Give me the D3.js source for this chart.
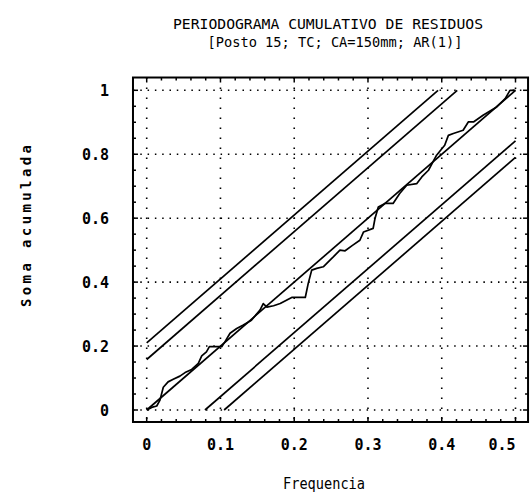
<!DOCTYPE html>
<html>
<head>
<meta charset="utf-8">
<script src="https://cdn.jsdelivr.net/npm/d3@7"></script>
<style>
  html, body { margin: 0; padding: 0; background: #fff; }
  svg { display: block; }
</style>
</head>
<body>
<svg id="chart" width="530" height="500"></svg>
<script>
// ---- data ----
const titleLines = ["PERIODOGRAMA CUMULATIVO DE RESIDUOS", "[Posto 15; TC; CA=150mm; AR(1)]"];
const xLabel = "Frequencia";
const yLabel = "Soma acumulada";
const xTicks = [0, 0.1, 0.2, 0.3, 0.4, 0.5];
const xTickLabels = ["0", "0.1", "0.2", "0.3", "0.4", "0.5"];
const yTicks = [0, 0.2, 0.4, 0.6, 0.8, 1];
const yTickLabels = ["0", "0.2", "0.4", "0.6", "0.8", "1"];
const bandOffsets = [0.158, 0.21];
const freq = [0, 0.0068, 0.0136, 0.018, 0.0225, 0.029, 0.036, 0.045, 0.052, 0.061, 0.07, 0.0746, 0.081, 0.085, 0.1017, 0.106, 0.113, 0.122, 0.131, 0.142, 0.1536, 0.158, 0.163, 0.172, 0.181, 0.1966, 0.215, 0.219, 0.2237, 0.2305, 0.2394, 0.2485, 0.253, 0.262, 0.269, 0.279, 0.289, 0.294, 0.307, 0.3095, 0.314, 0.323, 0.334, 0.343, 0.3525, 0.366, 0.373, 0.382, 0.393, 0.404, 0.409, 0.4157, 0.429, 0.436, 0.443, 0.456, 0.4745, 0.486, 0.4925, 0.5];
const cumPer = [0, 0.008, 0.0125, 0.031, 0.071, 0.088, 0.096, 0.106, 0.117, 0.127, 0.146, 0.169, 0.182, 0.198, 0.198, 0.213, 0.24, 0.255, 0.266, 0.281, 0.3125, 0.333, 0.322, 0.326, 0.333, 0.352, 0.352, 0.396, 0.4375, 0.443, 0.448, 0.469, 0.479, 0.5, 0.498, 0.515, 0.531, 0.557, 0.568, 0.599, 0.635, 0.646, 0.646, 0.677, 0.703, 0.708, 0.729, 0.75, 0.797, 0.828, 0.859, 0.865, 0.875, 0.901, 0.901, 0.922, 0.948, 0.974, 1.0, 1.0];

// ---- layout ----
const svg = d3.select("#chart");
const x = d3.scaleLinear().domain([0, 0.5]).range([146.7, 515.5]);
const y = d3.scaleLinear().domain([0, 1]).range([410, 90.3]);
const frameX = [-0.0186, 0.517];
const frameY = [-0.0375, 1.04];
const fx0 = x(frameX[0]), fx1 = x(frameX[1]), fy0 = y(frameY[1]), fy1 = y(frameY[0]);
const mono = "'DejaVu Sans Mono', monospace";

// grid (dotted)
svg.append("g").selectAll("line").data(yTicks).join("line")
  .attr("x1", fx0).attr("x2", fx1)
  .attr("y1", d => y(d)).attr("y2", d => y(d))
  .attr("stroke", "#000").attr("stroke-width", 1.6)
  .attr("stroke-dasharray", "1.5,5.8");
svg.append("g").selectAll("line").data(xTicks).join("line")
  .attr("x1", d => x(d)).attr("x2", d => x(d))
  .attr("y1", fy0).attr("y2", fy1)
  .attr("stroke", "#000").attr("stroke-width", 1.6)
  .attr("stroke-dasharray", "1.5,8.5");

// frame
svg.append("rect").attr("x", fx0).attr("y", fy0)
  .attr("width", fx1 - fx0).attr("height", fy1 - fy0)
  .attr("fill", "none").attr("stroke", "#000").attr("stroke-width", 2);

// frame ticks
const xMinor = d3.range(0, 0.5001, 0.02);
const yMinor = d3.range(0, 1.0001, 0.05);
const isMajX = d => Math.abs(d * 10 - Math.round(d * 10)) < 1e-6;
const isMajY = d => Math.abs(d * 5 - Math.round(d * 5)) < 1e-6;
const tk = svg.append("g").attr("stroke", "#000").attr("stroke-width", 1.5);
xMinor.forEach(d => {
  const L = isMajX(d) ? 5 : 3;
  tk.append("line").attr("x1", x(d)).attr("x2", x(d)).attr("y1", fy1).attr("y2", fy1 - L);
  tk.append("line").attr("x1", x(d)).attr("x2", x(d)).attr("y1", fy0).attr("y2", fy0 + L);
});
yMinor.forEach(d => {
  const L = isMajY(d) ? 5 : 3;
  tk.append("line").attr("y1", y(d)).attr("y2", y(d)).attr("x1", fx0).attr("x2", fx0 + L);
  tk.append("line").attr("y1", y(d)).attr("y2", y(d)).attr("x1", fx1).attr("x2", fx1 - L);
});

// band lines
const line = d3.line().x(d => x(d[0])).y(d => y(d[1]));
const bands = [];
bandOffsets.forEach(c => {
  bands.push([[0, c], [(1 - c) / 2, 1]]);
  bands.push([[c / 2, 0], [0.5, 1 - c]]);
});
bands.push([[0, 0], [0.5, 1]]);
svg.append("g").selectAll("path").data(bands).join("path")
  .attr("d", line).attr("fill", "none")
  .attr("stroke", "#000").attr("stroke-width", 1.7);

// cumulative periodogram
svg.append("path").datum(freq.map((f, i) => [f, cumPer[i]]))
  .attr("d", line).attr("fill", "none")
  .attr("stroke", "#000").attr("stroke-width", 1.7).attr("stroke-linejoin", "round");

// tick labels
svg.append("g").selectAll("text").data(xTicks).join("text")
  .attr("x", (d, i) => Math.min(x(d), 502))
  .attr("y", 450)
  .attr("text-anchor", "middle")
  .attr("font-family", mono).attr("font-size", 15).attr("font-weight", "bold")
  .text((d, i) => xTickLabels[i]);
svg.append("g").selectAll("text").data(yTicks).join("text")
  .attr("x", 109)
  .attr("y", d => y(d) + 6)
  .attr("text-anchor", "end")
  .attr("font-family", mono).attr("font-size", 15).attr("font-weight", "bold")
  .text((d, i) => yTickLabels[i]);

// titles
svg.append("text").attr("x", 328).attr("y", 29).attr("text-anchor", "middle")
  .attr("font-family", mono).attr("font-size", 14.5)
  .attr("textLength", 310).attr("lengthAdjust", "spacingAndGlyphs")
  .text(titleLines[0]);
svg.append("text").attr("x", 335).attr("y", 47).attr("text-anchor", "middle")
  .attr("font-family", mono).attr("font-size", 14.5)
  .attr("textLength", 255).attr("lengthAdjust", "spacingAndGlyphs")
  .text(titleLines[1]);

// axis titles
svg.append("text").attr("x", 324).attr("y", 489).attr("text-anchor", "middle")
  .attr("font-family", mono).attr("font-size", 16)
  .attr("textLength", 82).attr("lengthAdjust", "spacingAndGlyphs")
  .text(xLabel);
svg.append("text")
  .attr("transform", "translate(31,226) rotate(-90)")
  .attr("text-anchor", "middle")
  .attr("font-family", mono).attr("font-size", 14).attr("font-weight", "bold")
  .attr("textLength", 162).attr("lengthAdjust", "spacing")
  .text(yLabel);
</script>
</body>
</html>
